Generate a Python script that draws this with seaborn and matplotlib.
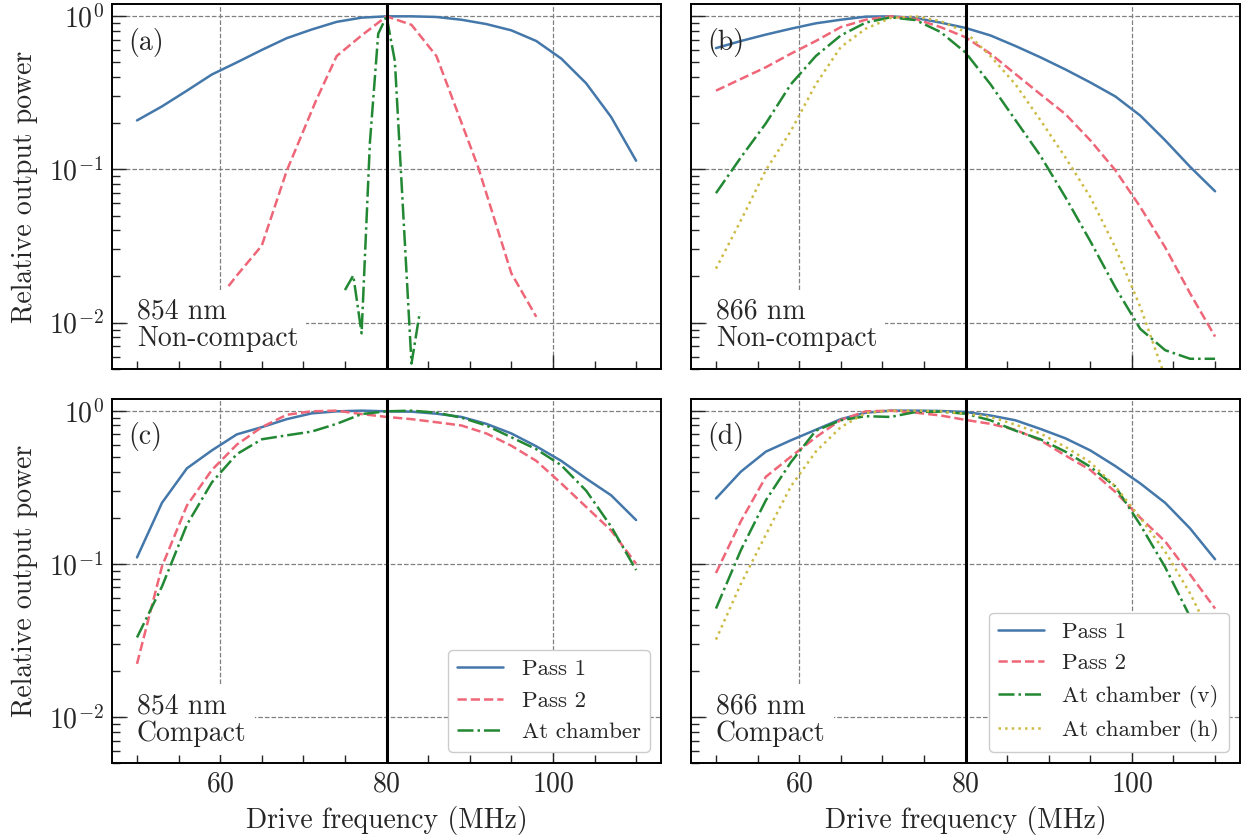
import matplotlib
matplotlib.use("Agg")
import matplotlib.pyplot as plt
import seaborn as sns
from matplotlib.ticker import MultipleLocator, LogLocator

# drive frequencies (MHz)
freq = [50, 53, 56, 59, 62, 65, 68, 71, 74, 77, 80, 83, 86, 89, 92, 95, 98, 101, 104, 107, 110]

# (a) 854 nm non-compact
a_pass1 = [0.209, 0.258, 0.327, 0.417, 0.50, 0.603, 0.72, 0.82, 0.92, 0.98, 1.0,
           1.0, 0.99, 0.95, 0.89, 0.81, 0.69, 0.53, 0.365, 0.22, 0.114]
a_pass2_x = [61, 62, 65, 68, 71.5, 74, 77, 80, 83, 86, 91, 95, 98]
a_pass2 = [0.0173, 0.0203, 0.0318, 0.098, 0.28, 0.55, 0.75, 1.0, 0.88, 0.55, 0.104, 0.021, 0.0109]
a_chamber_x = [75, 76, 77, 78, 79, 80, 81, 83, 84]
a_chamber = [0.0163, 0.0203, 0.0085, 0.15, 0.77, 1.0, 0.51, 0.0054, 0.0117]

# (b) 866 nm non-compact
b_pass1 = [0.62, 0.69, 0.76, 0.83, 0.90, 0.95, 0.995, 1.0, 0.975, 0.91, 0.84,
           0.75, 0.64, 0.54, 0.45, 0.37, 0.30, 0.225, 0.155, 0.104, 0.072]
b_pass2 = [0.327, 0.39, 0.465, 0.57, 0.69, 0.85, 0.95, 1.0, 0.96, 0.85, 0.73,
           0.57, 0.42, 0.31, 0.23, 0.155, 0.099, 0.057, 0.031, 0.0155, 0.0081]
b_cham_v = [0.070, 0.12, 0.20, 0.36, 0.55, 0.75, 0.91, 0.985, 0.945, 0.79, 0.58,
            0.36, 0.21, 0.123, 0.066, 0.034, 0.017, 0.0091, 0.0066, 0.0058, 0.0058]
b_cham_h = [0.0225, 0.0465, 0.099, 0.178, 0.36, 0.63, 0.83, 0.975, 1.0, 0.93, 0.79,
            0.55, 0.36, 0.21, 0.12, 0.066, 0.031, 0.0127, 0.0044]

# (c) 854 nm compact
c_pass1 = [0.11, 0.25, 0.42, 0.55, 0.70, 0.78, 0.88, 0.96, 0.99, 1.0, 0.99,
           0.985, 0.955, 0.91, 0.82, 0.71, 0.585, 0.47, 0.36, 0.28, 0.193]
c_pass2 = [0.0222, 0.096, 0.24, 0.41, 0.60, 0.78, 0.94, 0.99, 1.0, 0.95, 0.91,
           0.88, 0.84, 0.80, 0.71, 0.59, 0.47, 0.335, 0.235, 0.165, 0.10]
c_chamber = [0.033, 0.071, 0.18, 0.34, 0.52, 0.65, 0.69, 0.73, 0.82, 0.95, 0.99,
             1.0, 0.97, 0.90, 0.80, 0.67, 0.56, 0.44, 0.30, 0.175, 0.091]

# (d) 866 nm compact
d_pass1 = [0.267, 0.40, 0.54, 0.64, 0.75, 0.88, 0.97, 1.0, 1.0, 0.995, 0.98,
           0.93, 0.865, 0.76, 0.66, 0.55, 0.435, 0.335, 0.25, 0.17, 0.107]
d_pass2 = [0.087, 0.19, 0.37, 0.50, 0.67, 0.87, 0.99, 1.0, 0.97, 0.93, 0.87,
           0.82, 0.75, 0.64, 0.51, 0.41, 0.295, 0.20, 0.14, 0.085, 0.051]
d_cham_v = [0.051, 0.123, 0.26, 0.46, 0.74, 0.865, 0.92, 0.91, 0.98, 0.985, 0.955,
            0.865, 0.74, 0.65, 0.54, 0.43, 0.32, 0.18, 0.095, 0.045, 0.015]
d_cham_h = [0.032, 0.074, 0.155, 0.32, 0.54, 0.78, 0.965, 1.0, 1.0, 0.99, 0.955,
            0.91, 0.81, 0.71, 0.58, 0.46, 0.32, 0.20, 0.12, 0.064, 0.03]

panel_tags = ["(a)", "(b)", "(c)", "(d)"]
panel_notes = ["854 nm\nNon-compact", "866 nm\nNon-compact", "854 nm\nCompact", "866 nm\nCompact"]

blue, pink, green, yellow = "#4477AA", "#EE6677", "#228833", "#CCBB44"

sns.set_style("white")
plt.rcParams["font.family"] = ["cmr10", "DejaVu Serif"]
plt.rcParams["mathtext.fontset"] = "cm"
plt.rcParams["axes.formatter.use_mathtext"] = True
plt.rcParams["axes.unicode_minus"] = False
plt.rcParams["font.size"] = 20
plt.rcParams["axes.linewidth"] = 1.4
plt.rcParams["axes.edgecolor"] = "black"
plt.rcParams["xtick.direction"] = "in"
plt.rcParams["ytick.direction"] = "in"

fig, axes = plt.subplots(2, 2, figsize=(12.45, 8.4), dpi=100, sharex=True, sharey=True)
fig.subplots_adjust(left=0.09, right=0.996, top=0.995, bottom=0.0917, wspace=0.0546, hspace=0.082)

lw = 1.8


def draw(ax, x, y, color, ls, label):
    sns.lineplot(x=x, y=y, ax=ax, color=color, linestyle=ls, linewidth=lw,
                 label=label, legend=False, sort=False)


ax = axes[0, 0]
draw(ax, freq, a_pass1, blue, "-", "Pass 1")
draw(ax, a_pass2_x, a_pass2, pink, "--", "Pass 2")
draw(ax, a_chamber_x, a_chamber, green, "-.", "At chamber")

ax = axes[0, 1]
draw(ax, freq, b_pass1, blue, "-", "Pass 1")
draw(ax, freq, b_pass2, pink, "--", "Pass 2")
draw(ax, freq, b_cham_v, green, "-.", "At chamber (v)")
draw(ax, freq[:len(b_cham_h)], b_cham_h, yellow, ":", "At chamber (h)")

ax = axes[1, 0]
draw(ax, freq, c_pass1, blue, "-", "Pass 1")
draw(ax, freq, c_pass2, pink, "--", "Pass 2")
draw(ax, freq, c_chamber, green, "-.", "At chamber")

ax = axes[1, 1]
draw(ax, freq, d_pass1, blue, "-", "Pass 1")
draw(ax, freq, d_pass2, pink, "--", "Pass 2")
draw(ax, freq, d_cham_v, green, "-.", "At chamber (v)")
draw(ax, freq, d_cham_h, yellow, ":", "At chamber (h)")

for i, ax in enumerate(axes.flat):
    ax.axvline(80, color="black", lw=2.2, zorder=2.5)
    ax.set_yscale("log")
    ax.set_ylim(0.005, 1.2)
    ax.set_xlim(47, 113)
    ax.xaxis.set_major_locator(MultipleLocator(20))
    ax.xaxis.set_minor_locator(MultipleLocator(5))
    ax.yaxis.set_major_locator(LogLocator(base=10))
    ax.yaxis.set_minor_locator(LogLocator(base=10, subs=range(2, 10)))
    ax.tick_params(which="major", length=10, width=1.0, labelsize=20, pad=6,
                   bottom=True, left=True, top=False, right=False)
    ax.tick_params(which="minor", length=6, width=1.0,
                   bottom=True, left=True, top=False, right=False)
    ax.grid(True, which="major", ls="--", color="#808080", lw=0.9)
    ax.set_axisbelow(True)
    ax.text(0.03, 0.935, panel_tags[i], transform=ax.transAxes, fontsize=20, va="top", ha="left")
    ax.text(0.045, 0.045, panel_notes[i], transform=ax.transAxes, fontsize=20,
            va="bottom", ha="left", linespacing=1.05, zorder=4,
            bbox=dict(facecolor="white", edgecolor="none", pad=6))
    for s in ax.spines.values():
        s.set_visible(True)
        s.set_color("black")
        s.set_linewidth(1.4)

for ax in axes[:, 0]:
    ax.set_ylabel("Relative output power", fontsize=20, labelpad=8)
for ax in axes[1, :]:
    ax.set_xlabel("Drive frequency (MHz)", fontsize=20, labelpad=6)

for ax in axes[1, :]:
    leg = ax.legend(loc="lower right", fontsize=16.5, framealpha=1, edgecolor="#cccccc",
                    fancybox=True)
    leg.set_zorder(5)

fig.savefig("out.png", dpi=100)
